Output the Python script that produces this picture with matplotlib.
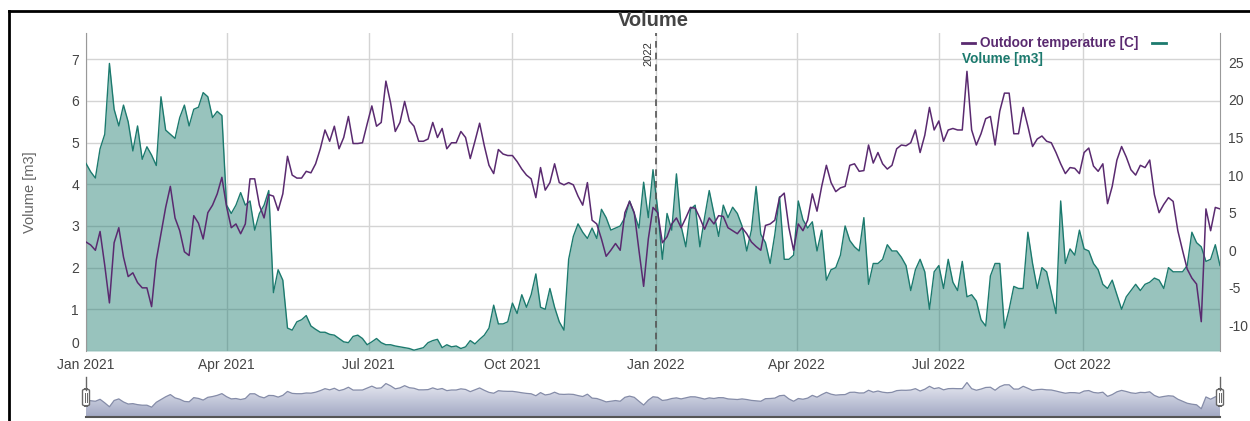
import numpy as np
import pandas as pd
import matplotlib
matplotlib.use("Agg")
import matplotlib.pyplot as plt
import matplotlib.dates as mdates
from matplotlib.lines import Line2D
from matplotlib.patches import FancyBboxPatch
from matplotlib.colors import LinearSegmentedColormap

plt.rcParams['font.family'] = ['Liberation Sans', 'DejaVu Sans']
plt.rcParams['axes.unicode_minus'] = False

# volume [m3], one reading every third day from 1 Jan 2021
volume = [
    4.5, 4.3, 4.15, 4.85, 5.2, 6.9, 5.8, 5.4, 5.9, 5.5,
    4.8, 5.4, 4.6, 4.9, 4.7, 4.45, 6.1, 5.3, 5.2, 5.1,
    5.6, 5.9, 5.4, 5.8, 5.85, 6.2, 6.1, 5.6, 5.75, 5.65,
    3.5, 3.3, 3.5, 3.8, 3.5, 3.6, 2.9, 3.3, 3.5, 3.85,
    1.4, 1.95, 1.7, 0.55, 0.5, 0.7, 0.75, 0.85, 0.6, 0.52,
    0.45, 0.45, 0.4, 0.38, 0.3, 0.22, 0.2, 0.35, 0.38, 0.3,
    0.15, 0.22, 0.3, 0.2, 0.15, 0.15, 0.12, 0.1, 0.08, 0.06,
    0.02, 0.05, 0.08, 0.2, 0.25, 0.28, 0.08, 0.15, 0.1, 0.12,
    0.06, 0.1, 0.25, 0.17, 0.28, 0.38, 0.55, 1.1, 0.65, 0.65,
    0.7, 1.15, 0.9, 1.35, 1.05, 1.35, 1.85, 1.05, 1.0, 1.5,
    1.05, 0.7, 0.5, 2.2, 2.75, 3.05, 2.85, 2.7, 2.95, 2.7,
    3.4, 3.2, 2.9, 2.95, 3.0, 3.2, 3.6, 3.3, 2.95, 4.05,
    3.2, 4.35, 3.4, 2.2, 3.3, 2.9, 4.25, 3.0, 2.5, 3.4,
    3.5, 2.5, 3.2, 3.85, 3.3, 2.75, 3.5, 3.2, 3.45, 3.3,
    3.0, 2.4, 2.9, 3.95, 2.8, 2.6, 2.1, 2.8, 3.7, 2.2,
    2.2, 2.3, 3.6, 3.15, 2.95, 3.1, 2.4, 2.9, 1.7, 1.95,
    2.0, 2.3, 3.0, 2.65, 2.5, 2.4, 3.2, 1.6, 2.1, 2.1,
    2.2, 2.55, 2.4, 2.4, 2.25, 2.05, 1.45, 1.95, 2.2, 1.9,
    1.0, 1.9, 2.05, 1.5, 2.2, 1.65, 1.45, 2.15, 1.3, 1.35,
    1.2, 0.75, 0.6, 1.8, 2.1, 2.1, 0.55, 1.0, 1.55, 1.5,
    1.5, 2.85, 2.1, 1.5, 2.0, 1.9, 1.4, 0.9, 3.6, 2.1,
    2.45, 2.3, 2.9, 2.45, 2.4, 2.1, 1.95, 1.6, 1.5, 1.7,
    1.35, 1.0, 1.3, 1.45, 1.6, 1.45, 1.6, 1.65, 1.75, 1.7,
    1.5, 2.0, 1.9, 1.9, 1.9, 2.05, 2.85, 2.6, 2.5, 2.15,
    2.2, 2.55, 2.05,
]

# outdoor temperature [C], same days
temperature = [
    1.1, 0.7, 0.0, 2.5, -2.0, -7.0, 1.0, 3.0, -0.9, -3.5,
    -3.0, -4.3, -5.0, -5.0, -7.5, -1.3, 2.2, 5.7, 8.5, 4.3,
    2.6, -0.2, -0.7, 4.6, 3.6, 1.5, 5.0, 6.0, 7.5, 9.7,
    5.8, 3.0, 3.5, 2.2, 3.5, 9.5, 9.5, 6.0, 4.3, 7.4,
    7.2, 5.3, 7.5, 12.5, 10.0, 9.6, 9.6, 10.5, 10.3, 11.5,
    13.5, 16.0, 14.5, 16.5, 13.5, 15.0, 17.8, 14.2, 14.2, 14.3,
    16.8, 19.2, 16.5, 17.0, 22.5, 19.6, 15.8, 17.0, 19.8, 17.2,
    16.5, 14.5, 14.5, 14.8, 17.0, 15.0, 16.2, 13.5, 14.3, 14.3,
    15.8, 15.0, 12.2, 14.5, 16.9, 13.9, 11.3, 10.2, 13.4, 12.8,
    12.6, 12.6, 11.8, 10.8, 10.0, 9.5, 7.0, 11.0, 8.0, 9.0,
    11.5, 9.0, 8.7, 9.0, 8.7, 7.2, 6.0, 9.0, 4.0, 3.5,
    1.5, -0.8, 0.0, 0.9, 0.0, 5.0, 6.5, 5.0, 0.0, -4.8,
    1.5, 5.7, 5.0, 1.0, 1.8, 3.5, 4.3, 3.0, 4.3, 5.7,
    5.6, 4.3, 2.8, 4.3, 3.5, 4.6, 4.5, 3.0, 2.6, 2.2,
    3.0, 2.2, 1.1, 0.5, 0.0, 3.3, 3.5, 4.0, 7.0, 7.6,
    3.0, 0.0, 3.5, 2.6, 4.0, 7.5, 5.2, 8.5, 11.3, 9.0,
    7.8, 8.3, 8.5, 11.3, 11.5, 10.5, 10.6, 14.0, 11.6, 13.0,
    11.5, 10.8, 11.3, 13.5, 14.0, 13.9, 14.3, 16.0, 13.0, 15.3,
    19.0, 16.0, 17.2, 14.5, 16.0, 16.2, 16.0, 16.0, 23.8, 16.0,
    14.0, 15.5, 17.5, 17.8, 14.0, 18.5, 20.9, 20.9, 15.5, 15.5,
    19.0, 16.5, 13.8, 14.8, 15.2, 14.5, 14.3, 13.0, 11.5, 10.2,
    11.0, 10.9, 10.2, 13.0, 13.6, 11.2, 10.5, 11.5, 6.2, 8.5,
    12.0, 13.8, 12.4, 10.7, 10.0, 11.3, 11.0, 12.0, 7.4, 5.0,
    6.1, 7.0, 6.5, 2.6, 0.0, -2.5, -3.7, -4.5, -9.5, 5.5,
    2.6, 5.7, 5.5,
]

dates = pd.date_range("2021-01-01", periods=len(volume), freq="3D")

tick_dates = pd.to_datetime(["2021-01-01", "2021-04-01", "2021-07-01", "2021-10-01",
                             "2022-01-01", "2022-04-01", "2022-07-01", "2022-10-01"])
tick_labels = ["Jan 2021", "Apr 2021", "Jul 2021", "Oct 2021",
               "Jan 2022", "Apr 2022", "Jul 2022", "Oct 2022"]
vol_ticks = [0, 1, 2, 3, 4, 5, 6, 7]
temp_ticks = [-10, -5, 0, 5, 10, 15, 20, 25]
year_mark = pd.Timestamp("2022-01-01")

TEAL = "#1c7a6e"
PURPLE = "#5a2a70"
GRID = "#d4d4d4"
TXT = "#444444"

W, H = 1250, 421
fig = plt.figure(figsize=(W / 100, H / 100), dpi=100)


def fx(px):
    return px / W


def fy(py):
    return 1 - py / H


# main plot
ax = fig.add_axes([fx(86), fy(351), fx(1220) - fx(86), fy(33) - fy(351)])
ax.fill_between(dates, volume, 0, color=TEAL, alpha=0.45, lw=0, zorder=2)
ax.plot(dates, volume, color=TEAL, lw=1.0, zorder=3)
ax.set_ylim(0, 7.63)
ax.set_xlim(dates[0], dates[-1])
ax.set_yticks(vol_ticks)
ax.set_xticks(tick_dates)
ax.set_xticklabels(tick_labels)
ax.set_axisbelow(True)
ax.grid(True, color=GRID, lw=1.0, zorder=0)
ax.tick_params(length=0, labelsize=10, colors=TXT)
ax.tick_params(axis="y", pad=5)
ax.tick_params(axis="x", pad=5)
# the zero label sits just above the first date label
ax.get_yticklabels()[0].set_verticalalignment("bottom")
for s in ["top", "bottom"]:
    ax.spines[s].set_visible(False)
ax.spines["left"].set_color("#999999")
ax.spines["right"].set_visible(False)

ax.axvline(year_mark, color="#555555", lw=1.2, ls=(0, (4, 3)), zorder=4)
ax.annotate("2022", xy=(year_mark, 1.0), xycoords=("data", "axes fraction"),
            xytext=(-2, -6), textcoords="offset points", rotation=90,
            ha="right", va="top", fontsize=8, color="#333333")

# temperature on the right axis
ax2 = ax.twinx()
ax2.plot(dates, temperature, color=PURPLE, lw=1.1, zorder=5)
ax2.set_ylim(-13.4, 28.9)
ax2.set_yticks(temp_ticks)
ax2.tick_params(length=0, labelsize=10, colors=TXT, pad=6)
for s in ["top", "bottom", "left"]:
    ax2.spines[s].set_visible(False)
ax2.spines["right"].set_color("#999999")

fig.text(fx(653), fy(20.5), "Volume", ha="center", va="center",
         fontsize=14.5, fontweight="bold", color=TXT)
fig.text(fx(30), fy(192), "Volume [m3]", rotation=90, ha="center", va="center",
         fontsize=10.5, color="#666666")

# legend
fig.add_artist(Line2D([fx(962), fx(975)], [fy(43), fy(43)], color=PURPLE, lw=2))
fig.text(fx(980), fy(43), "Outdoor temperature [C]", ha="left", va="center",
         fontsize=9.8, fontweight="bold", color=PURPLE)
fig.add_artist(Line2D([fx(1152), fx(1166)], [fy(43), fy(43)], color=TEAL, lw=2))
fig.text(fx(962), fy(59), "Volume [m3]", ha="left", va="center",
         fontsize=9.8, fontweight="bold", color=TEAL)

# range slider underneath
ax3 = fig.add_axes([fx(86), fy(417), fx(1220) - fx(86), fy(380) - fy(417)])
xs = mdates.date2num(dates)
lo, hi = -20, 27
band = ax3.fill_between(xs, temperature, lo, color="none", lw=0)
grad = np.linspace(0, 1, 100).reshape(-1, 1)
cmap = LinearSegmentedColormap.from_list("nav", ["#a2a8c3", "#eceef5"])
im = ax3.imshow(grad, extent=[xs[0], xs[-1], lo, hi], origin="lower",
                aspect="auto", cmap=cmap, zorder=1)
im.set_clip_path(band.get_paths()[0], transform=ax3.transData)
ax3.plot(xs, temperature, color="#858ca8", lw=0.9, zorder=2)
ax3.set_xlim(xs[0], xs[-1])
ax3.set_ylim(lo, hi)
ax3.axis("off")

fig.add_artist(Line2D([fx(86), fx(1220)], [fy(417), fy(417)], color="#555555", lw=1.5))
for hx in (86, 1220):
    fig.add_artist(Line2D([fx(hx), fx(hx)], [fy(377), fy(390)], color="#666666", lw=1))
    fig.add_artist(FancyBboxPatch((fx(hx - 3.5), fy(406)), fx(7), fy(389) - fy(406),
                                  boxstyle="round,pad=0,rounding_size=0.004",
                                  fc="white", ec="#666666", lw=1, transform=fig.transFigure))
    for dx in (-1, 1):
        fig.add_artist(Line2D([fx(hx + dx), fx(hx + dx)], [fy(393), fy(402)],
                              color="#666666", lw=0.7))

# outer frame
fig.add_artist(Line2D([fx(9), fx(1250)], [fy(11), fy(11)], color="black", lw=2))
fig.add_artist(Line2D([fx(9), fx(9)], [fy(11), fy(421)], color="black", lw=2))

fig.savefig("out.png", dpi=100)
